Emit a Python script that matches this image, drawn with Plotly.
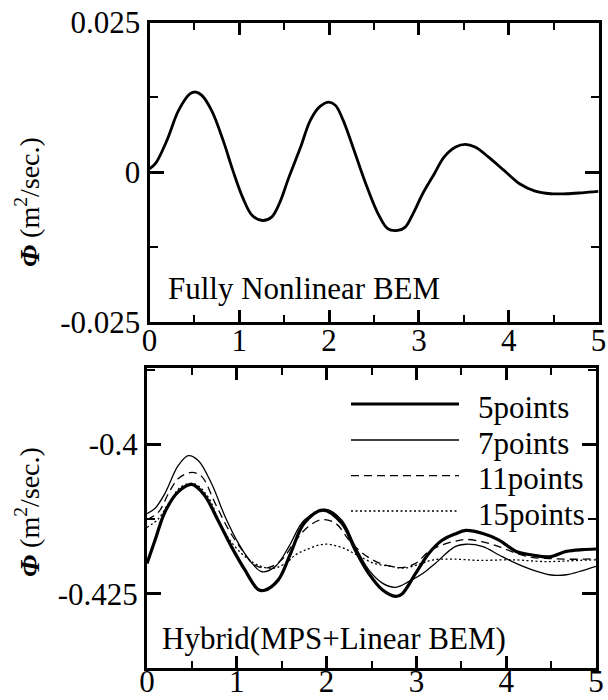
import plotly.graph_objects as go

# ---------------- data ----------------
# Top panel: Fully Nonlinear BEM
x_bem = [0.0, 0.065, 0.194, 0.324, 0.453, 0.518, 0.583, 0.691, 0.82, 0.928, 1.036, 1.144, 1.26, 1.359,
         1.445, 1.553, 1.683, 1.791, 1.899, 1.998, 2.071, 2.157, 2.265, 2.395, 2.546, 2.654, 2.762, 2.848,
         2.934, 3.042, 3.172, 3.28, 3.409, 3.517, 3.625, 3.776, 3.948, 4.121, 4.294, 4.466, 4.638, 4.811, 5.0]
y_bem = [0.00056, 0.0014, 0.0053, 0.01032, 0.0131, 0.01338, 0.01282, 0.01032, 0.0053, 0.00028, -0.00418,
         -0.00724, -0.00809, -0.00752, -0.00529, -0.00084, 0.00419, 0.00865, 0.01098, 0.01171, 0.01115,
         0.00865, 0.00419, -0.00139, -0.00697, -0.00947, -0.00975, -0.00919, -0.00697, -0.00362, -0.00028,
         0.00251, 0.00419, 0.00463, 0.00419, 0.00251, 0.00028, -0.00195, -0.00318, -0.00362, -0.00362,
         -0.00346, -0.00323]

# Bottom panel: Hybrid (MPS + Linear BEM)
x_5pts = [0, 0.09, 0.2, 0.35, 0.5, 0.64, 0.79, 0.94, 1.09, 1.24, 1.31, 1.46, 1.6, 1.75, 1.96, 2.17, 2.32,
          2.47, 2.62, 2.77, 2.84, 2.99, 3.14, 3.29, 3.43, 3.55, 3.74, 3.92, 4.11, 4.29, 4.48, 4.67, 4.85, 5.0]
y_5pts = [-0.4199, -0.4160, -0.4113, -0.4079, -0.4067, -0.4085, -0.4127, -0.4171, -0.4210, -0.4243,
          -0.4244, -0.4227, -0.4182, -0.4132, -0.4110, -0.4132, -0.4177, -0.4216, -0.4243, -0.4254,
          -0.4250, -0.4216, -0.4182, -0.4160, -0.4150, -0.4144, -0.4149, -0.4160, -0.4179, -0.4185,
          -0.4188, -0.4179, -0.4176, -0.4175]

x_7pts = [0, 0.09, 0.2, 0.35, 0.46, 0.57, 0.72, 0.87, 1.02, 1.17, 1.28, 1.43, 1.58, 1.75, 1.99, 2.17,
          2.32, 2.47, 2.62, 2.77, 2.92, 3.07, 3.21, 3.43, 3.55, 3.74, 3.92, 4.11, 4.29, 4.48, 4.67, 4.85, 5.0]
y_7pts = [-0.4116, -0.4107, -0.4082, -0.4035, -0.4019, -0.4027, -0.4066, -0.4121, -0.4166, -0.4199,
          -0.4213, -0.4204, -0.4171, -0.4127, -0.4109, -0.4127, -0.4171, -0.4210, -0.4232, -0.4239,
          -0.4229, -0.4216, -0.4199, -0.4171, -0.4167, -0.4171, -0.4185, -0.4199, -0.4210, -0.4218,
          -0.4218, -0.4211, -0.4204]

x_11pts = [0, 0.13, 0.24, 0.35, 0.5, 0.61, 0.76, 0.91, 1.06, 1.2, 1.35, 1.5, 1.65, 1.8, 1.95, 2.1, 2.25,
           2.4, 2.55, 2.69, 2.84, 2.99, 3.14, 3.29, 3.43, 3.55, 3.74, 3.92, 4.11, 4.29, 4.48, 4.67, 4.85, 5.0]
y_11pts = [-0.4126, -0.4113, -0.4082, -0.4057, -0.4047, -0.4054, -0.4099, -0.4143, -0.4177, -0.4202,
           -0.4206, -0.4193, -0.4162, -0.4137, -0.4126, -0.4132, -0.4160, -0.4182, -0.4196, -0.4203,
           -0.4206, -0.4199, -0.4179, -0.4168, -0.4162, -0.4159, -0.4163, -0.4171, -0.4182, -0.4189,
           -0.4191, -0.4192, -0.4192, -0.4191]

x_15pts = [0, 0.13, 0.24, 0.38, 0.53, 0.68, 0.83, 0.98, 1.12, 1.27, 1.42, 1.57, 1.65, 1.76, 1.97, 2.16,
           2.34, 2.53, 2.72, 2.86, 3.04, 3.19, 3.43, 3.7, 4.07, 4.44, 4.81, 5.0]
y_15pts = [-0.4139, -0.4124, -0.4099, -0.4071, -0.4066, -0.4088, -0.4138, -0.4171, -0.4191, -0.4204,
           -0.4207, -0.4196, -0.4185, -0.4177, -0.4167, -0.4172, -0.4185, -0.4199, -0.4204, -0.4207,
           -0.4200, -0.4193, -0.4192, -0.4194, -0.4193, -0.4196, -0.4194, -0.4193]

series_names = ["5points", "7points", "11points", "15points"]
x_ticks = [0, 1, 2, 3, 4, 5]
x_ticktext = ["0", "1", "2", "3", "4", "5"]
y_top_ticks = [-0.025, 0, 0.025]
y_top_ticktext = ["-0.025", "0", "0.025"]
y_bot_ticks = [-0.425, -0.4]
y_bot_ticktext = ["-0.425", "-0.4"]

# ---------------- figure ----------------
W, H = 608, 700
FONT = "Liberation Serif, Times New Roman, serif"

fig = go.Figure()
fig.add_trace(go.Scatter(x=x_bem, y=y_bem, mode="lines", line=dict(color="black", width=2.8, shape="spline"),
                         xaxis="x", yaxis="y", showlegend=False))

styles = [dict(width=3.2, dash="solid"), dict(width=1.3, dash="solid"),
          dict(width=1.3, dash="8px,5px"), dict(width=1.3, dash="2px,2.5px")]
xs = [x_5pts, x_7pts, x_11pts, x_15pts]
ys = [y_5pts, y_7pts, y_11pts, y_15pts]
for name, xv, yv, st in zip(series_names, xs, ys, styles):
    fig.add_trace(go.Scatter(x=xv, y=yv, mode="lines", name=name,
                             line=dict(color="black", width=st["width"], dash=st["dash"], shape="spline"),
                             xaxis="x2", yaxis="y2", showlegend=False))

def px_x(p):
    return p / W

def px_y(p):
    return 1 - p / H

axis_common = dict(showline=True, linewidth=3, linecolor="black", mirror="ticks", ticks="inside",
                   tickwidth=2.5, tickcolor="black", showgrid=False, zeroline=False,
                   tickfont=dict(family=FONT, size=31, color="black"), automargin=False)

fig.update_layout(
    width=W, height=H, margin=dict(l=0, r=0, t=0, b=0),
    paper_bgcolor="white", plot_bgcolor="white", showlegend=False,
    font=dict(family=FONT, color="black"),
    xaxis=dict(domain=[px_x(149.5), px_x(598.5)], range=[0, 5], anchor="y",
               tickvals=x_ticks, ticktext=x_ticktext, ticklen=12, ticklabelstandoff=-11,
               minor=dict(dtick=0.5, ticks="inside", ticklen=7, tickwidth=2, tickcolor="black"),
               **axis_common),
    yaxis=dict(domain=[px_y(321.7), px_y(22.5)], range=[-0.025, 0.025], anchor="x",
               tickvals=y_top_ticks, ticktext=y_top_ticktext, ticklen=14, ticklabelstandoff=0,
               minor=dict(dtick=0.0125, ticks="inside", ticklen=8, tickwidth=2, tickcolor="black"),
               **axis_common),
    xaxis2=dict(domain=[px_x(147), px_x(596)], range=[0, 5], anchor="y2",
                tickvals=x_ticks, ticktext=x_ticktext, ticklen=12, ticklabelstandoff=-16,
                minor=dict(dtick=0.5, ticks="inside", ticklen=7, tickwidth=2, tickcolor="black"),
                **axis_common),
    yaxis2=dict(domain=[px_y(667.5), px_y(368.3)], range=[-0.4373, -0.3873], anchor="x2",
                tickvals=y_bot_ticks, ticktext=y_bot_ticktext, ticklen=14, ticklabelstandoff=0,
                minor=dict(tick0=-0.4, dtick=0.0125, ticks="inside", ticklen=8, tickwidth=2, tickcolor="black"),
                **axis_common),
)

ytitle = "<b><i>Φ</i></b> (m<sup>2</sup>/sec.)"
annos = [
    dict(text=ytitle, x=px_x(27), y=px_y(202), textangle=-90),
    dict(text=ytitle, x=px_x(27), y=px_y(512), textangle=-90),
]
for a in annos:
    a.update(xref="paper", yref="paper", showarrow=False, xanchor="center", yanchor="middle",
             font=dict(family=FONT, size=28, color="black"))
    fig.add_annotation(**a)

fig.add_annotation(text="Fully Nonlinear BEM", x=px_x(166), y=px_y(289), xref="paper", yref="paper",
                   showarrow=False, xanchor="left", yanchor="middle",
                   font=dict(family=FONT, size=31, color="black"))
fig.add_annotation(text="Hybrid(MPS+Linear BEM)", x=px_x(160), y=px_y(638), xref="paper", yref="paper",
                   showarrow=False, xanchor="left", yanchor="middle",
                   font=dict(family=FONT, size=31, color="black"))

# custom legend (long line samples)
rows = [404, 440, 475.7, 511]
for name, st, ry in zip(series_names, styles, rows):
    fig.add_shape(type="line", xref="paper", yref="paper", x0=px_x(351), x1=px_x(459),
                  y0=px_y(ry), y1=px_y(ry), line=dict(color="black", width=st["width"], dash=st["dash"]))
    fig.add_annotation(text=name, x=px_x(476), y=px_y(ry + 3), xref="paper", yref="paper",
                       showarrow=False, xanchor="left", yanchor="middle",
                       font=dict(family=FONT, size=31, color="black"))

fig.write_html("out.html", config={"displayModeBar": False},
               post_script="document.body.style.margin='0';document.body.style.padding='0';"
                           "document.documentElement.style.overflow='hidden';")
